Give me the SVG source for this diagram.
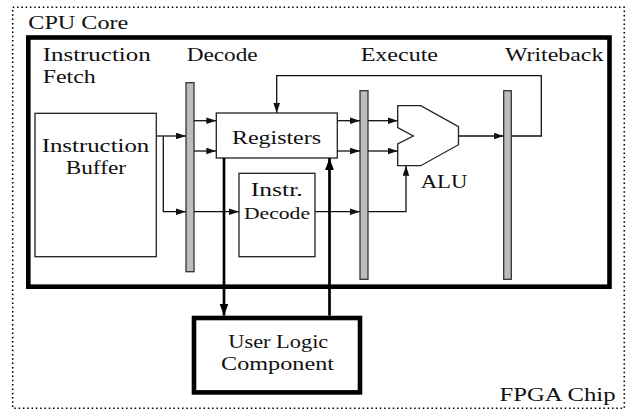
<svg xmlns="http://www.w3.org/2000/svg" width="627" height="409" viewBox="0 0 627 409">
  <style>
    .lbl { font-family: 'Liberation Serif', 'DejaVu Serif', serif; font-size: 19px; fill: #111; }
    .small { font-size: 17.5px; }
    .box { fill: #fff; stroke: #222; stroke-width: 1.3; }
    .bar { fill: #bdbdbd; stroke: #333; stroke-width: 1.3; }
    .thick { fill: #fff; stroke: #000; stroke-width: 4.6; }
    .wire { fill: none; stroke: #111; stroke-width: 1.3; marker-end: url(#arrow); }
    .bus { fill: none; stroke: #000; stroke-width: 2.7; marker-end: url(#bigarrow); }
  </style>
  <defs>
    <marker id="arrow" markerUnits="userSpaceOnUse" markerWidth="10" markerHeight="7" refX="10" refY="3.3" orient="auto">
      <path d="M0,0 L10,3.3 L0,6.6 z" fill="#111"/>
    </marker>
    <marker id="bigarrow" markerUnits="userSpaceOnUse" markerWidth="13" markerHeight="9" refX="12" refY="4.4" orient="auto">
      <path d="M0,0 L12,4.4 L0,8.8 z" fill="#000"/>
    </marker>
  </defs>

  <!-- FPGA chip outline -->
  <g id="fpga">
    <rect x="12.7" y="7.3" width="611.6" height="401" fill="none" stroke="#000" stroke-width="1.6" stroke-dasharray="1.5 2.8"/>
    <text class="lbl" x="499.5" y="400.7" textLength="116" lengthAdjust="spacingAndGlyphs">FPGA Chip</text>
  </g>

  <!-- CPU core frame -->
  <g id="cpu-core">
    <text class="lbl" x="28.3" y="29.3" textLength="100" lengthAdjust="spacingAndGlyphs">CPU Core</text>
    <rect x="28.3" y="37.5" width="581.2" height="249.2" fill="none" stroke="#000" stroke-width="4.6"/>
  </g>

  <!-- stage headings -->
  <g id="stage-fetch">
    <text class="lbl" x="42.7" y="60.7" textLength="108" lengthAdjust="spacingAndGlyphs">Instruction</text>
    <text class="lbl" x="42.7" y="82.7" textLength="53" lengthAdjust="spacingAndGlyphs">Fetch</text>
  </g>
  <g id="stage-decode">
    <text class="lbl" x="186.7" y="60.7" textLength="71" lengthAdjust="spacingAndGlyphs">Decode</text>
  </g>
  <g id="stage-execute">
    <text class="lbl" x="360.7" y="60.7" textLength="77.3" lengthAdjust="spacingAndGlyphs">Execute</text>
  </g>
  <g id="stage-writeback">
    <text class="lbl" x="505" y="60.7" textLength="98.3" lengthAdjust="spacingAndGlyphs">Writeback</text>
  </g>

  <!-- pipeline registers -->
  <g id="bar-decode"><rect class="bar" x="186" y="82.7" width="8" height="189"/></g>
  <g id="bar-execute"><rect class="bar" x="360" y="90.7" width="8" height="188.6"/></g>
  <g id="bar-writeback"><rect class="bar" x="503.7" y="90.7" width="7.6" height="188.6"/></g>

  <!-- blocks -->
  <g id="instruction-buffer">
    <rect class="box" x="35" y="113.3" width="121.3" height="143.4"/>
    <text class="lbl" x="41.7" y="152" textLength="107.6" lengthAdjust="spacingAndGlyphs">Instruction</text>
    <text class="lbl" x="65.7" y="174" textLength="60.3" lengthAdjust="spacingAndGlyphs">Buffer</text>
  </g>
  <g id="registers">
    <rect class="box" x="216.3" y="113" width="121" height="45"/>
    <text class="lbl" x="232" y="143.7" textLength="89" lengthAdjust="spacingAndGlyphs">Registers</text>
  </g>
  <g id="instr-decode">
    <rect class="box" x="239" y="173.3" width="76" height="83.4"/>
    <text class="lbl" x="250.7" y="196" textLength="52" lengthAdjust="spacingAndGlyphs">Instr.</text>
    <text class="lbl small" x="244" y="219" textLength="66" lengthAdjust="spacingAndGlyphs">Decode</text>
  </g>
  <g id="alu">
    <polygon class="box" points="397.7,105.7 420.7,105.7 458.5,126.7 458.5,144.7 420.7,165.7 397.7,165.7 397.7,144 413.3,136 397.7,127.5"/>
    <text class="lbl" x="420.7" y="188.3" textLength="46.6" lengthAdjust="spacingAndGlyphs">ALU</text>
  </g>
  <g id="user-logic">
    <rect class="thick" x="194" y="318" width="166" height="74.4"/>
    <text class="lbl" x="228.3" y="348.3" textLength="100" lengthAdjust="spacingAndGlyphs">User Logic</text>
    <text class="lbl" x="221" y="369.7" textLength="113" lengthAdjust="spacingAndGlyphs">Component</text>
  </g>

  <!-- connectors -->
  <g id="connectors">
    <path class="wire" d="M156.3,136 H186"/>
    <path class="wire" d="M163.3,136 V211.7 H186"/>
    <path class="wire" d="M194,120.7 H216.3"/>
    <path class="wire" d="M194,151 H216.3"/>
    <path class="wire" d="M194,211.7 H239"/>
    <path class="wire" d="M337.3,120.7 H360"/>
    <path class="wire" d="M337.3,151 H360"/>
    <path class="wire" d="M368,120.7 H397.7"/>
    <path class="wire" d="M368,151 H397.7"/>
    <path class="wire" d="M315,211.7 H360"/>
    <path class="wire" d="M368,211.7 H406 V165.7"/>
    <path class="wire" d="M458.5,136 H503.7"/>
    <path class="wire" d="M511.3,136 H541.3 V75.7 H276.7 V113"/>
    <path class="bus" d="M224,158 V315.7"/>
    <path class="bus" d="M329.5,315.7 V158"/>
  </g>
</svg>
